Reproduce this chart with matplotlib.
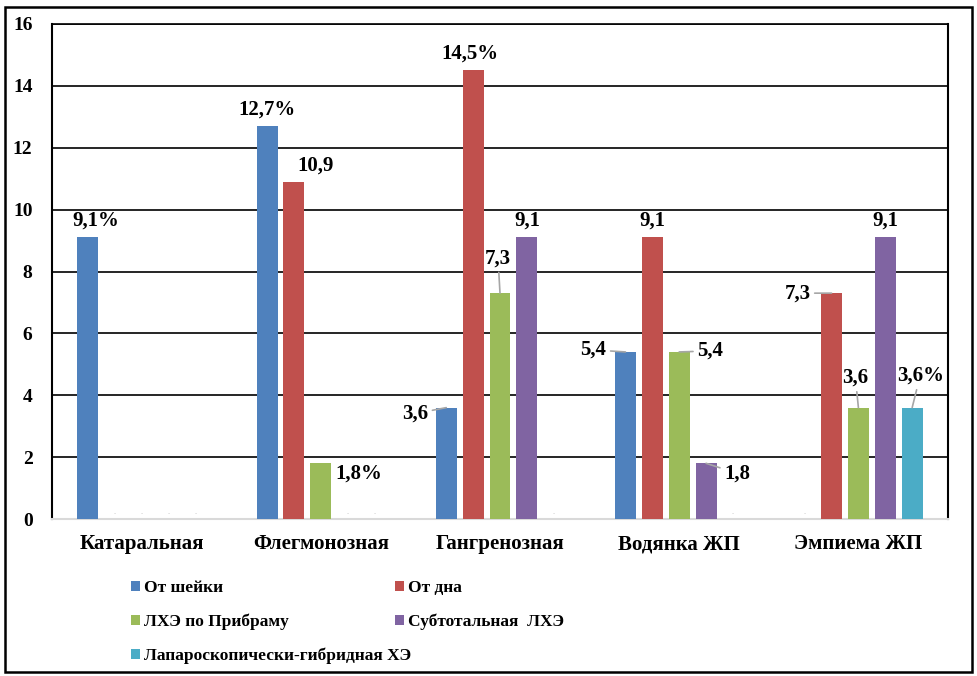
import matplotlib
matplotlib.use("Agg")
import matplotlib.pyplot as plt
import numpy as np
from matplotlib.patches import Patch, Rectangle

# data
categories = ["Катаральная", "Флегмонозная", "Гангренозная", "Водянка ЖП", "Эмпиема ЖП"]
series_names = [
    "От шейки",
    "От дна",
    "ЛХЭ по Прибраму",
    "Субтотальная  ЛХЭ",
    "Лапароскопически-гибридная ХЭ",
]
series_colors = ["#4F81BD", "#C0504D", "#9BBB59", "#8064A2", "#4BACC6"]

ot_sheyki = [9.1, 12.7, 3.6, 5.4, 0.0]
ot_dna = [0.0, 10.9, 14.5, 9.1, 7.3]
pribram = [0.0, 1.8, 7.3, 5.4, 3.6]
subtotal = [0.0, 0.0, 9.1, 1.8, 9.1]
hybrid = [0.0, 0.0, 0.0, 0.0, 3.6]
values = [ot_sheyki, ot_dna, pribram, subtotal, hybrid]

# label texts (None -> tiny dot for empty value)
label_texts = [
    ["9,1%", "12,7%", "3,6", "5,4", None],
    [None, "10,9", "14,5%", "9,1", "7,3"],
    [None, "1,8%", "7,3", "5,4", "3,6"],
    [None, None, "9,1", "1,8", "9,1"],
    [None, None, None, None, "3,6%"],
]

# label placement: (dx, dy, ha, va, leader) in pixels from bar top centre
label_pos = {
    (0, 0): (8, 7, "center", "bottom", False),
    (0, 1): (0, 7, "center", "bottom", False),
    (1, 1): (22, 6, "center", "bottom", False),
    (2, 1): (15, -10, "left", "center", False),
    (0, 2): (-18, -6, "right", "center", True),
    (1, 2): (-3, 7, "center", "bottom", False),
    (2, 2): (-2, 25, "center", "bottom", True),
    (3, 2): (0, 7, "center", "bottom", False),
    (0, 3): (-19, 2, "right", "center", True),
    (1, 3): (0, 7, "center", "bottom", False),
    (2, 3): (18, 1, "left", "center", True),
    (3, 3): (18, -10, "left", "center", True),
    (1, 4): (-21, 0, "right", "center", True),
    (2, 4): (-3, 20, "center", "bottom", True),
    (3, 4): (0, 7, "center", "bottom", False),
    (4, 4): (8, 22, "center", "bottom", True),
}

FONT = ["Liberation Serif", "DejaVu Serif"]
plt.rcParams["font.family"] = FONT
plt.rcParams["font.weight"] = "bold"

fig = plt.figure(figsize=(9.78, 6.76), dpi=100)
ax = fig.add_axes([52 / 978, 1 - 519 / 676, 896 / 978, 495 / 676])

x = np.arange(len(categories))
slot = 0.15
width = 0.117
for j, (vals, color) in enumerate(zip(values, series_colors)):
    xs = x + (j - 2) * slot
    ax.bar(xs, vals, width=width, color=color, zorder=3)
    for i, v in enumerate(vals):
        txt = label_texts[j][i]
        if txt is None:
            ax.annotate(".", (xs[i], 0), xytext=(0, 3), textcoords="offset pixels",
                        ha="center", va="bottom", fontsize=6, color="#BFBFBF",
                        family=FONT, fontweight="normal", zorder=4)
            continue
        dx, dy, ha, va, leader = label_pos[(j, i)]
        arrow = None
        if leader:
            arrow = dict(arrowstyle="-", color="#A6A6A6", lw=1.2, shrinkA=1, shrinkB=0)
        ax.annotate(txt, (xs[i], v), xytext=(dx, dy), textcoords="offset pixels",
                    ha=ha, va=va, fontsize=15, family=FONT, fontweight="bold",
                    color="black", arrowprops=arrow, zorder=5)

ax.set_xlim(-0.5, 4.5)
ax.set_ylim(0, 16)
ax.set_yticks(range(0, 17, 2))
ax.set_xticks(x)
ax.set_xticklabels(categories)
ax.tick_params(axis="y", length=0, pad=14, labelsize=14)
ax.tick_params(axis="x", length=0, pad=11, labelsize=15)
for lab in ax.get_xticklabels() + ax.get_yticklabels():
    lab.set_fontweight("bold")
    lab.set_family(FONT)

ax.grid(axis="y", color="black", lw=1.2, zorder=0)
ax.set_axisbelow(True)
ax.spines["left"].set_color("black")
ax.spines["left"].set_linewidth(1.5)
ax.spines["right"].set_color("black")
ax.spines["right"].set_linewidth(1.5)
ax.spines["top"].set_color("black")
ax.spines["top"].set_linewidth(1.2)
ax.spines["bottom"].set_color("#D9D9D9")
ax.spines["bottom"].set_linewidth(1.5)

# legend in two independent columns, rows read as in the original
leg_kw = dict(loc="upper left", frameon=False,
              prop={"family": FONT, "weight": "bold", "size": 12.5},
              handlelength=0.5, handleheight=0.5, handletextpad=0.25,
              labelspacing=1.0, borderaxespad=0, borderpad=0)
columns = [([0, 2, 4], 131), ([1, 3], 395)]
for idx, left_px in columns:
    handles = [Patch(facecolor=series_colors[k], edgecolor="none") for k in idx]
    labels = [series_names[k] for k in idx]
    fig.legend(handles, labels, bbox_to_anchor=(left_px / 978, 1 - 580 / 676), **leg_kw)

# outer frame around the whole picture
fig.patches.append(Rectangle((5 / 978, 4 / 676), 967 / 978, 665 / 676,
                             transform=fig.transFigure, fill=False,
                             edgecolor="black", lw=1.8))

fig.savefig("out.png", dpi=100)
